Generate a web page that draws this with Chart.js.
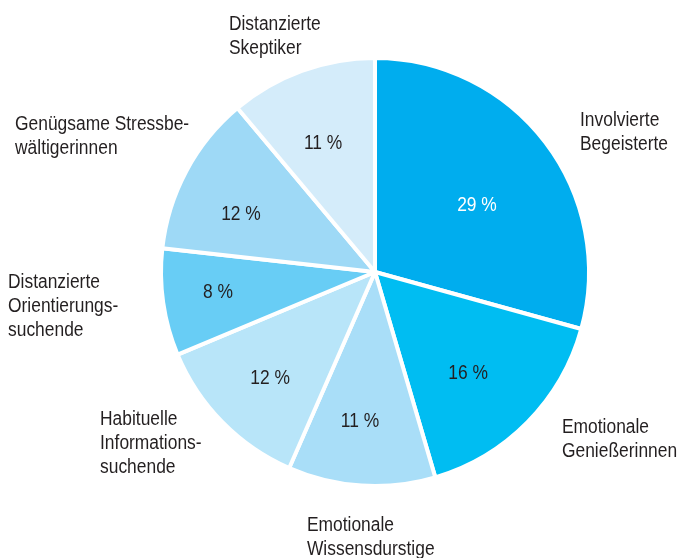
<!DOCTYPE html>
<html>
<head>
<meta charset="utf-8">
<style>
  html, body { margin: 0; padding: 0; background: #ffffff; }
  #wrap { width: 680px; height: 558px; position: relative; }
</style>
<script src="https://cdn.jsdelivr.net/npm/chart.js@4.4.1/dist/chart.umd.min.js"></script>
</head>
<body>
<div id="wrap"><canvas id="pie" width="680" height="558"></canvas></div>
<script>
// Segment names (line breaks as set in the figure) and their shares in percent
const segments = [
  ['Involvierte', 'Begeisterte'],
  ['Emotionale', 'Genießerinnen'],
  ['Emotionale', 'Wissensdurstige'],
  ['Habituelle', 'Informations-', 'suchende'],
  ['Distanzierte', 'Orientierungs-', 'suchende'],
  ['Genügsame Stressbe-', 'wältigerinnen'],
  ['Distanzierte', 'Skeptiker']
];
const shares = [29, 16, 11, 12, 8, 12, 11];

const sliceColors = ['#00adee', '#00bdf2', '#a9def8', '#b8e5f9', '#68cdf5', '#9ed9f6', '#d4ecfa'];
const pctColors = ['#ffffff', '#231f20', '#231f20', '#231f20', '#231f20', '#231f20', '#231f20'];

// Label anchors (centre of the capitals of the first line), in units of the
// pie radius, relative to the pie centre
const pctAnchor = [[0.481, -0.322], [0.439, 0.472], [-0.071, 0.698], [-0.495, 0.496],
                   [-0.741, 0.090], [-0.632, -0.278], [-0.245, -0.613]];
const nameAnchor = [[0.967, -0.724], [0.882, 0.725], [-0.321, 1.189], [-1.297, 0.686],
                    [-1.731, 0.040], [-1.698, -0.705], [-0.689, -1.175]];

// Condensed sans look: regular sans, narrowed horizontally
const FONT_PX = 20;
const FONT = FONT_PX + 'px "Liberation Sans", Arial, sans-serif';
const CAP_HALF = 0.358 * FONT_PX;
const NARROW = 0.87;
const LINE_H = 24.2;

function narrowText(ctx, text, x, capCentreY, align) {
  ctx.save();
  ctx.translate(x, capCentreY + CAP_HALF);
  ctx.scale(NARROW, 1);
  ctx.textAlign = align;
  ctx.textBaseline = 'alphabetic';
  ctx.fillText(text, 0, 0);
  ctx.restore();
}

const labelPlugin = {
  id: 'sliceLabels',
  afterDatasetsDraw(chart) {
    const ctx = chart.ctx;
    const arcs = chart.getDatasetMeta(0).data;
    if (!arcs.length) return;
    const cx = arcs[0].x, cy = arcs[0].y;
    const r = arcs[0].outerRadius - 2;
    ctx.save();
    ctx.font = FONT;
    arcs.forEach((arc, i) => {
      // percentage inside the slice
      ctx.fillStyle = pctColors[i];
      narrowText(ctx, shares[i] + ' %', cx + pctAnchor[i][0] * r, cy + pctAnchor[i][1] * r, 'center');
      // segment name outside the pie
      ctx.fillStyle = '#231f20';
      const x0 = cx + nameAnchor[i][0] * r, y0 = cy + nameAnchor[i][1] * r;
      segments[i].forEach((line, k) => narrowText(ctx, line, x0, y0 + k * LINE_H, 'left'));
    });
    ctx.restore();
  }
};

new Chart(document.getElementById('pie'), {
  type: 'pie',
  data: {
    labels: segments.map(s => s.join(' ')),
    datasets: [{
      data: shares,
      backgroundColor: sliceColors,
      borderColor: '#ffffff',
      borderWidth: 4
    }]
  },
  options: {
    responsive: false,
    animation: false,
    events: [],
    layout: { padding: { left: 159, right: 89, top: 56, bottom: 70 } },
    plugins: { legend: { display: false }, tooltip: { enabled: false } }
  },
  plugins: [labelPlugin]
});
</script>
</body>
</html>
